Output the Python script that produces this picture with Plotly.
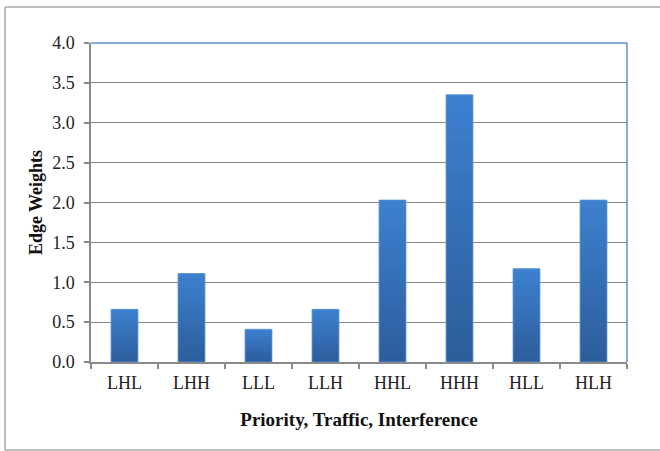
import plotly.graph_objects as go

categories = ["LHL", "LHH", "LLL", "LLH", "HHL", "HHH", "HLL", "HLH"]
edge_weights = [0.66, 1.11, 0.41, 0.66, 2.03, 3.35, 1.17, 2.03]
y_ticks = [0.0, 0.5, 1.0, 1.5, 2.0, 2.5, 3.0, 3.5, 4.0]

top_rgb = (60, 128, 206)
bot_rgb = (45, 94, 156)
N = 24

fig = go.Figure()
for i in range(N):
    t = i / (N - 1)
    c = tuple(int(round(top_rgb[k] + (bot_rgb[k] - top_rgb[k]) * t)) for k in range(3))
    frac = (N - i) / N
    fig.add_trace(go.Bar(
        x=categories,
        y=[v * frac for v in edge_weights],
        marker=dict(color="rgb(%d,%d,%d)" % c, line=dict(width=0)),
        showlegend=False, hoverinfo="skip",
    ))
fig.add_trace(go.Bar(
    x=categories, y=edge_weights,
    marker=dict(color="rgba(0,0,0,0)", line=dict(color="rgba(90,145,210,0.9)", width=1)),
    showlegend=False,
))

serif = "Liberation Serif, Times New Roman, serif"
border = dict(color="#A8A8A8", width=1.5)
fig.update_layout(
    width=660, height=451,
    margin=dict(l=91, r=33, t=43, b=89),
    paper_bgcolor="white", plot_bgcolor="white",
    barmode="overlay", bargap=0.6,
    font=dict(family=serif, size=18, color="#222222"),
    xaxis=dict(
        type="category", tickson="boundaries", ticks="outside", ticklen=5,
        tickcolor="#8A8A8A", tickwidth=1.5, ticklabelstandoff=4,
        showline=True, linecolor="#8A8A8A", linewidth=1.5,
        showgrid=False,
        tickfont=dict(family=serif, size=18, color="#222222"),
        title=dict(text="<b>Priority, Traffic, Interference</b>", standoff=20,
                   font=dict(family=serif, size=19, color="#111111")),
    ),
    yaxis=dict(
        range=[0, 4], tickvals=y_ticks, tickformat=".1f",
        ticks="outside", ticklen=5, tickcolor="#8A8A8A", tickwidth=1.5,
        ticklabelstandoff=6,
        showline=True, linecolor="#8A8A8A", linewidth=1.5,
        showgrid=True, gridcolor="#8A8A8A", gridwidth=1.2,
        zeroline=False,
        tickfont=dict(family=serif, size=18, color="#222222"),
        title=dict(text="<b>Edge Weights</b>", standoff=5,
                   font=dict(family=serif, size=18, color="#111111")),
    ),
    shapes=[
        dict(type="line", xref="paper", yref="paper", x0=0, x1=1, y0=1, y1=1,
             line=dict(color="#5E8FD2", width=1.5)),
        dict(type="line", xref="paper", yref="paper", x0=1, x1=1, y0=0, y1=1,
             line=dict(color="#5E8FD2", width=1.5)),
        dict(type="line", xref="paper", yref="paper", x0=-0.1604, x1=1.2, y0=1.1129, y1=1.1129,
             line=border, layer="below"),
        dict(type="line", xref="paper", yref="paper", x0=-0.1604, x1=1.2, y0=-0.2759, y1=-0.2759,
             line=border, layer="below"),
        dict(type="line", xref="paper", yref="paper", x0=-0.1604, x1=-0.1604, y0=-0.2759, y1=1.1129,
             line=border, layer="below"),
    ],
)
fig.write_html("out.html", config={"displayModeBar": False},
               post_script="document.body.style.margin='0';")
